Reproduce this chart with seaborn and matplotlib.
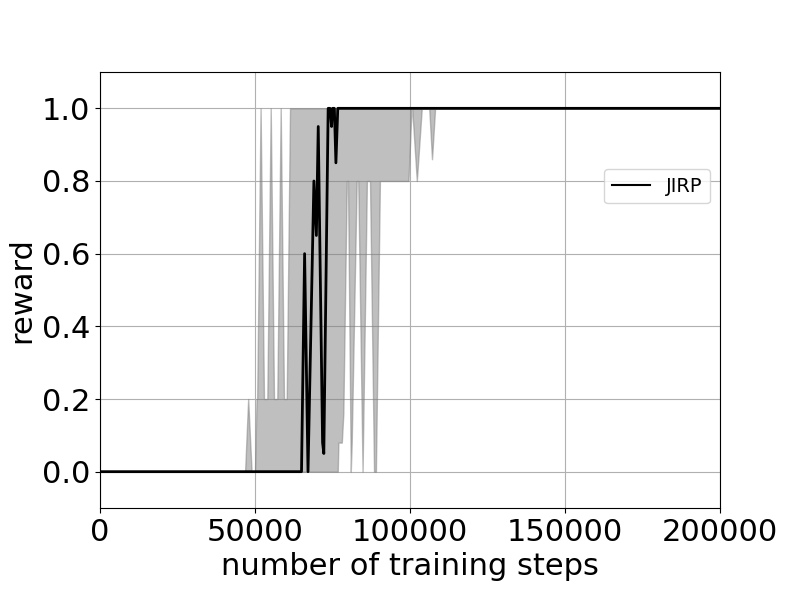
import numpy as np
import pandas as pd
import matplotlib
matplotlib.use("Agg")
import matplotlib.pyplot as plt
import seaborn as sns

# band (min / max over runs)
band_steps = [0, 46800, 47800, 48900, 50000, 50500, 50700, 51800, 52900, 53970,
              55070, 56130, 57190, 58290, 59350, 60230, 61300, 76700, 76900,
              78000, 78500, 79600, 80000, 80900, 81200, 82800, 83300, 84700,
              86100, 87100, 88400, 89000, 90300, 99500, 100500, 100700, 102200,
              103800, 106200, 107100, 108100, 200000]
band_low = [0, 0, 0, 0, 0, 0, 0, 0, 0, 0,
            0, 0, 0, 0, 0, 0, 0, 0, 0.08,
            0.08, 0.16, 0.8, 0.8, 0, 0.08, 0.8, 0.8, 0,
            0.8, 0.8, 0, 0, 0.8, 0.8, 1.0, 1.0, 0.8,
            1.0, 1.0, 0.86, 1.0, 1.0]
band_high = [0, 0, 0.2, 0, 0, 0.2, 0.2, 1.0, 0.2, 0.2,
             1.0, 0.2, 0.2, 1.0, 0.2, 0.2, 1.0, 1.0, 1.0,
             1.0, 1.0, 1.0, 1.0, 1.0, 1.0, 1.0, 1.0, 1.0,
             1.0, 1.0, 1.0, 1.0, 1.0, 1.0, 1.0, 1.0, 1.0,
             1.0, 1.0, 1.0, 1.0, 1.0]

# mean reward of JIRP
jirp_steps = [0, 65000, 66000, 67100, 69000, 69800, 70400, 71800, 72200,
              73600, 74200, 74700, 75000, 75600, 76100, 76700, 200000]
jirp_reward = [0, 0, 0.6, 0, 0.8, 0.65, 0.95, 0.08, 0.05,
               1.0, 1.0, 0.95, 1.0, 1.0, 0.85, 1.0, 1.0]

df = pd.DataFrame({"step": jirp_steps, "reward": jirp_reward})

fig, ax = plt.subplots(figsize=(8, 5.98), dpi=100)
fig.subplots_adjust(left=0.125, right=0.9, top=0.8796, bottom=0.1505)

ax.fill_between(band_steps, band_low, band_high, color="gray", alpha=0.5)
sns.lineplot(data=df, x="step", y="reward", color="black", linewidth=2,
             estimator=None, label="JIRP", ax=ax)

ax.set_xlim(0, 200000)
ax.set_ylim(-0.1, 1.1)
ax.set_xticks([0, 50000, 100000, 150000, 200000])
ax.set_yticks([0.0, 0.2, 0.4, 0.6, 0.8, 1.0])
ax.tick_params(labelsize=22)
ax.set_xlabel("number of training steps", fontsize=22)
ax.set_ylabel("reward", fontsize=22)
ax.grid(True, color="#b0b0b0")
ax.set_axisbelow(True)
leg = ax.legend(loc="upper right", bbox_to_anchor=(1.0, 0.8), fontsize=14)
for h in leg.get_lines():
    h.set_linewidth(1.5)

plt.savefig("out.png", dpi=100)
